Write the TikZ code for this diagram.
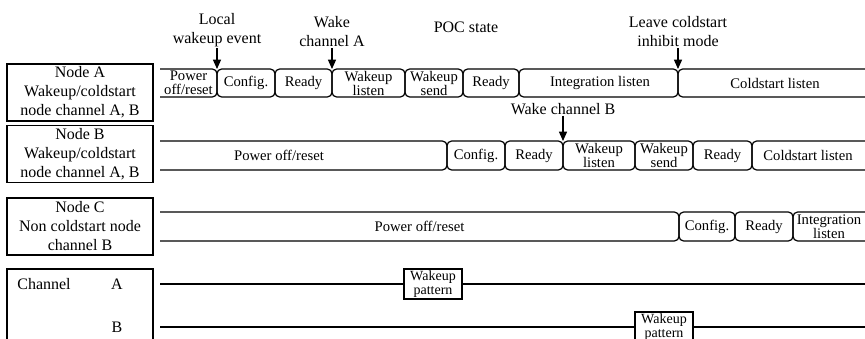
\documentclass[tikz,border=0pt]{standalone}
\usepackage{fontspec}
\setmainfont{Liberation Serif}
\usetikzlibrary{arrows.meta}

\begin{document}
\begin{tikzpicture}[x=0.75pt,y=-0.75pt,
    box/.style={draw,line width=1.2pt,minimum width=109.5pt,minimum height=42.75pt,
      inner sep=0pt,align=center,font=\fontsize{12}{14.25}\selectfont},
    phase/.style={draw,line width=0.9pt,rounded corners=3.5pt},
    phasetext/.style={align=center,inner sep=0pt,font=\fontsize{11}{10.5}\selectfont},
    toptext/.style={align=center,inner sep=0.5pt,font=\fontsize{12}{14.25}\selectfont},
    pointer/.style={line width=1pt,-{Triangle[length=7pt,width=6pt]}},
    wire/.style={line width=0.9pt},
    pulse/.style={draw,fill=white,line width=1.1pt,minimum width=43.5pt,minimum height=22.5pt,
      inner sep=0pt,align=center,font=\fontsize{10.5}{10}\selectfont}
  ]
    \useasboundingbox (0,0) rectangle (865,339);

    % events above the rows
    \node[toptext,anchor=south] (local) at (217,48) {Local\\wakeup event};
    \node[toptext,anchor=south] (wakeA) at (332,48) {Wake\\channel A};
    \node[toptext] (poc) at (466,27) {POC state};
    \node[toptext,anchor=south] (leave) at (678,48) {Leave coldstart\\inhibit mode};
    \node[toptext] (wakeB) at (563,109) {Wake channel B};
    \coordinate (evLocal) at (217,69);
    \coordinate (evWakeA) at (332,69);
    \coordinate (evLeave) at (678,69);
    \coordinate (evWakeB) at (563,141);
    \draw[pointer] (local) -- (evLocal);
    \draw[pointer] (wakeA) -- (evWakeA);
    \draw[pointer] (leave) -- (evLeave);
    \draw[pointer] (wakeB) -- (evWakeB);

    % node A
    \node[box] (nodeA) at (80,92.5) {Node A\\Wakeup/coldstart\\node channel A, B};
    \draw[phase] (160,69) -- (217,69) -- (217,97) -- (160,97);
    \foreach \xa/\xb in {217/275,275/332,332/405,405/463,463/519,519/678}
      \draw[phase] (\xa,69) rectangle (\xb,97);
    \draw[phase] (880,69) -- (678,69) -- (678,97) -- (880,97);
    \node[phasetext] (a1) at (188.5,83) {Power\\off/reset};
    \node[phasetext] (a2) at (246,83) {Config.};
    \node[phasetext] (a3) at (303.5,83) {Ready};
    \node[phasetext] (a4) at (368.5,83) {Wakeup\\listen};
    \node[phasetext] (a5) at (434,83) {Wakeup\\send};
    \node[phasetext] (a6) at (491,83) {Ready};
    \node[phasetext] (a7) at (600,83) {Integration listen};
    \node[phasetext] (a8) at (775,83) {Coldstart listen};

    % node B
    \node[box] (nodeB) at (80,154) {Node B\\Wakeup/coldstart\\node channel A, B};
    \draw[phase] (160,141) -- (447,141) -- (447,170) -- (160,170);
    \foreach \xa/\xb in {447/505,505/563,563/635,635/693,693/752}
      \draw[phase] (\xa,141) rectangle (\xb,170);
    \draw[phase] (880,141) -- (752,141) -- (752,170) -- (880,170);
    \node[phasetext] (b1) at (279,155.5) {Power off/reset};
    \node[phasetext] (b2) at (476,155.5) {Config.};
    \node[phasetext] (b3) at (534,155.5) {Ready};
    \node[phasetext] (b4) at (599,155.5) {Wakeup\\listen};
    \node[phasetext] (b5) at (664,155.5) {Wakeup\\send};
    \node[phasetext] (b6) at (722.5,155.5) {Ready};
    \node[phasetext] (b7) at (808,155.5) {Coldstart listen};

    % node C
    \node[box] (nodeC) at (80,226.5) {Node C\\Non coldstart node\\channel B};
    \draw[phase] (160,212) -- (679,212) -- (679,241) -- (160,241);
    \foreach \xa/\xb in {679/735,735/793}
      \draw[phase] (\xa,212) rectangle (\xb,241);
    \draw[phase] (880,212) -- (793,212) -- (793,241) -- (880,241);
    \node[phasetext] (c1) at (419.5,226.5) {Power off/reset};
    \node[phasetext] (c2) at (707,226.5) {Config.};
    \node[phasetext] (c3) at (764,226.5) {Ready};
    \node[phasetext] (c4) at (829,226.5) {Integration\\listen};

    % channels
    \draw[line width=1.2pt] (7,360) |- (153,269) -- (153,360);
    \node[toptext] (chan) at (44,284) {Channel};
    \node[toptext] (chanA) at (117,284) {A};
    \node[toptext] (chanB) at (117,327) {B};
    \coordinate (lineA0) at (160,284);
    \coordinate (lineA1) at (880,284);
    \coordinate (lineB0) at (160,327);
    \coordinate (lineB1) at (880,327);
    \node[pulse] (patA) at (433,284) {Wakeup\\pattern};
    \node[pulse] (patB) at (664,327) {Wakeup\\pattern};
    \draw[wire] (lineA0) -- (patA) -- (lineA1);
    \draw[wire] (lineB0) -- (patB) -- (lineB1);
  \end{tikzpicture}
\end{document}
